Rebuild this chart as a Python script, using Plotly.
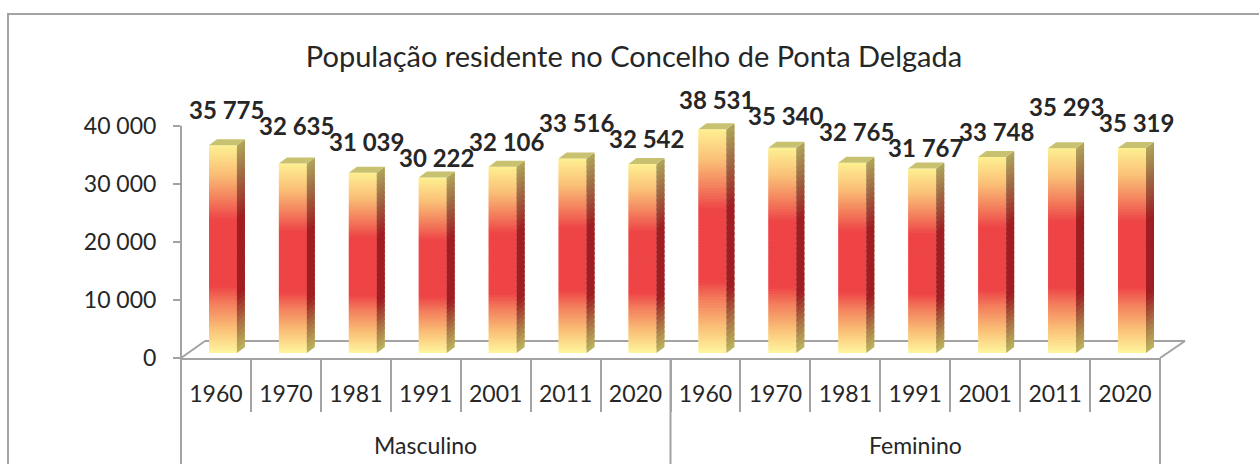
import plotly.graph_objects as go

# ---------------- data ----------------
title_text = "População residente no Concelho de Ponta Delgada"
groups = ["Masculino", "Feminino"]
years = ["1960", "1970", "1981", "1991", "2001", "2011", "2020"]
masculino = [35775, 32635, 31039, 30222, 32106, 33516, 32542]
feminino = [38531, 35340, 32765, 31767, 33748, 35293, 35319]
y_tick_values = [0, 10000, 20000, 30000, 40000]
y_tick_labels = ["0", "10 000", "20 000", "30 000", "40 000"]

# ---------------- derived ----------------
series = [masculino, feminino]
x_keys = [f"{g} {y}" for g, vals in zip(groups, series) for y in years[:len(vals)]]
x_text = [y for vals in series for y in years[:len(vals)]]
values = [v for vals in series for v in vals]
n = len(values)

# ---------------- geometry / style ----------------
W, H = 1259, 464
L, R, T, B = 181, 99, 91, 106
YMAX = 46000
plot_w = W - L - R
plot_h = H - T - B
cat_px = plot_w / n
unit_px = plot_h / YMAX


def px2x(p):
    return p / cat_px


def px2y(p):
    return p / unit_px


BAR_W = 0.40
BAR_OFF = -0.10
BASE_PX = 5
BASE0 = px2y(BASE_PX)
DX_PX, DY_PX = 8, 6
DX = px2x(DX_PX)
DY = px2y(DY_PX)
N_FRONT = 80
N_SIDE = 40

GRAY = "#a3a3a3"
TXT = "#262626"
FONT = "Lato"

front_stops = [
    (0.00, (255, 246, 158)),
    (0.12, (250, 190, 118)),
    (0.24, (243, 125, 92)),
    (0.32, (238, 68, 70)),
    (0.64, (238, 68, 70)),
    (0.74, (243, 125, 92)),
    (0.86, (250, 190, 118)),
    (1.00, (254, 240, 145)),
]
side_stops = [
    (0.00, (188, 182, 92)),
    (0.12, (172, 122, 72)),
    (0.28, (160, 30, 34)),
    (0.64, (160, 30, 34)),
    (0.84, (160, 105, 68)),
    (1.00, (176, 166, 90)),
]
TOP_COLOR = "rgb(200,194,112)"


def lerp(stops, f):
    for (f0, c0), (f1, c1) in zip(stops, stops[1:]):
        if f <= f1:
            t = (f - f0) / (f1 - f0) if f1 > f0 else 0
            return "rgb(%d,%d,%d)" % tuple(round(a + (b - a) * t) for a, b in zip(c0, c1))
    return "rgb(%d,%d,%d)" % stops[-1][1]


fig = go.Figure()

# front faces: gradient built from slices of each bar
for k in range(N_FRONT):
    f = (k + 0.5) / N_FRONT
    seg = [v / N_FRONT * (1.8 if k < N_FRONT - 1 else 1.0) for v in values]
    base = [BASE0 + v * k / N_FRONT for v in values]
    fig.add_trace(go.Bar(
        x=x_keys, y=seg, base=base,
        width=BAR_W, offset=BAR_OFF,
        marker=dict(color=lerp(front_stops, f), line=dict(width=0)),
        hoverinfo="skip", showlegend=False,
    ))

shapes = []
# floor (3D base)
fx = 24 / plot_w
fx2 = 25 / plot_w
fy = px2y(17)
gline = dict(color=GRAY, width=2)
shapes.append(dict(type="line", xref="paper", yref="y", x0=0, y0=0, x1=fx, y1=fy, line=gline, layer="below"))
shapes.append(dict(type="line", xref="paper", yref="y", x0=fx, y0=fy, x1=1 + fx2, y1=fy, line=gline, layer="below"))
shapes.append(dict(type="line", xref="paper", yref="y", x0=1, y0=0, x1=1 + fx2, y1=fy, line=gline, layer="below"))
# y axis line
shapes.append(dict(type="line", xref="paper", yref="y", x0=0, y0=0, x1=0, y1=y_tick_values[-1], line=gline))
# group dividers reaching the bottom of the chart
n_groups = len(groups)
for gi in range(n_groups + 1):
    gx = gi / n_groups
    shapes.append(dict(type="line", xref="paper", yref="paper", x0=gx, x1=gx,
                       y0=0, y1=-(B + 10) / plot_h, line=gline))

# side faces and top faces
for i, v in enumerate(values):
    xl = i + BAR_OFF
    xr = xl + BAR_W
    for k in range(N_SIDE):
        f = (k + 0.5) / N_SIDE
        y0 = BASE0 + v * k / N_SIDE
        y1 = BASE0 + v * (k + 1) / N_SIDE + (v / N_SIDE * 0.6 if k < N_SIDE - 1 else 0)
        shapes.append(dict(
            type="path", xref="x", yref="y",
            path=f"M {xr},{y0} L {xr + DX},{y0 + DY} L {xr + DX},{y1 + DY} L {xr},{y1} Z",
            fillcolor=lerp(side_stops, f), line=dict(width=0),
        ))
    top = BASE0 + v
    shapes.append(dict(
        type="path", xref="x", yref="y",
        path=f"M {xl},{top} L {xr},{top} L {xr + DX},{top + DY} L {xl + DX},{top + DY} Z",
        fillcolor=TOP_COLOR, line=dict(width=0),
    ))

# outer chart border
shapes.append(dict(
    type="rect", xref="paper", yref="paper",
    x0=(8 - L) / plot_w, x1=(W + 10 - L) / plot_w,
    y0=(H - B - (H + 10)) / plot_h, y1=(H - B - 14) / plot_h,
    line=dict(color=GRAY, width=2), fillcolor="rgba(0,0,0,0)",
))

# data labels: place above bar tops, push neighbours apart when they collide
GAP = 9
MIN_SEP = 16
top_h = [v * unit_px + BASE_PX + DY_PX for v in values]  # px height of bar top (back edge)
lab_h = [h + GAP for h in top_h]
for i in range(n - 2, -1, -1):
    nb = lab_h[i + 1]
    if abs(lab_h[i] - nb) < MIN_SEP:
        if lab_h[i] < nb and nb - MIN_SEP >= top_h[i] + 2:
            lab_h[i] = nb - MIN_SEP
        else:
            lab_h[i] = nb + MIN_SEP

annotations = []
for i, v in enumerate(values):
    annotations.append(dict(
        x=i + BAR_OFF + BAR_W / 2 + DX / 2, y=BASE0 + v, xref="x", yref="y",
        text=f"{v:,}".replace(",", " "), showarrow=False,
        yanchor="bottom", yshift=lab_h[i] - top_h[i],
        font=dict(family=FONT, size=24, color=TXT, weight="bold"),
    ))
# group labels (second level of the category axis)
for gi, g in enumerate(groups):
    annotations.append(dict(
        x=(gi + 0.5) / n_groups, y=-(445 - (H - B)) / plot_h, xref="paper", yref="paper",
        text=g, showarrow=False, yanchor="middle", xanchor="center",
        font=dict(family=FONT, size=23, color=TXT),
    ))

fig.update_layout(
    width=W, height=H,
    margin=dict(l=L, r=R, t=T, b=B, autoexpand=False),
    paper_bgcolor="white", plot_bgcolor="white",
    barmode="overlay",
    showlegend=False,
    title=dict(text=title_text, x=634 / W, xref="container", xanchor="center",
               y=1 - 57 / H, yref="container", yanchor="middle",
               font=dict(family=FONT, size=29, color=TXT)),
    shapes=shapes,
    annotations=annotations,
    font=dict(family=FONT, color=TXT),
)
fig.update_xaxes(
    type="category", range=[-0.5, n - 0.5], automargin=False,
    tickmode="array", tickvals=x_keys, ticktext=x_text,
    showline=True, linecolor=GRAY, linewidth=2,
    ticks="outside", tickson="boundaries", ticklen=52, tickcolor=GRAY, tickwidth=2,
    ticklabelstandoff=14,
    tickfont=dict(family=FONT, size=23, color=TXT),
    showgrid=False, zeroline=False, tickangle=0,
)
fig.update_yaxes(
    range=[0, YMAX], tickvals=y_tick_values, ticktext=y_tick_labels, automargin=False,
    ticks="outside", ticklen=7, tickcolor=GRAY, tickwidth=2,
    ticklabelstandoff=12,
    showline=False, showgrid=False, zeroline=False,
    tickfont=dict(family=FONT, size=23, color=TXT),
)

fig.write_html("out.html", config={"displayModeBar": False},
               post_script="document.body.style.margin='0';")
